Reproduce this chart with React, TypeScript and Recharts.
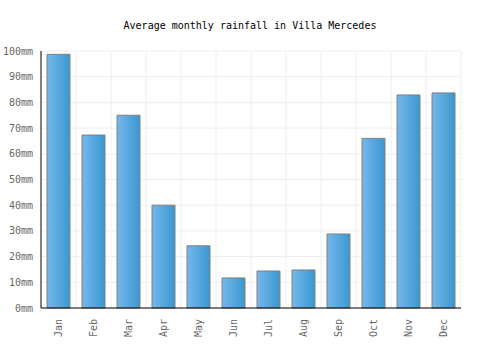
import React from 'react';
import { BarChart, Bar, XAxis, YAxis, CartesianGrid } from 'recharts';

const months = ['Jan', 'Feb', 'Mar', 'Apr', 'May', 'Jun', 'Jul', 'Aug', 'Sep', 'Oct', 'Nov', 'Dec'];
const rainfall = [98.7, 67.3, 75, 40, 24.2, 11.7, 14.4, 14.8, 28.8, 66, 82.9, 83.7];
const yTicks = [0, 10, 20, 30, 40, 50, 60, 70, 80, 90, 100];

const data = months.map((month, i) => ({ month, rainfall: rainfall[i] }));

const FONT = '"DejaVu Sans Mono", monospace';

const MonthTick = ({ x, y, payload }: { x?: number; y?: number; payload?: { value: string } }) => (
    <text
        transform={`translate(${x}, ${(y ?? 0) + 3}) rotate(-90)`}
        textAnchor="end"
        dominantBaseline="central"
        fontFamily={FONT}
        fontSize={10}
        fill="#666"
        stroke="none"
    >
        {payload?.value}
    </text>
);

export default function App() {
    return (
        <div style={{ position: 'absolute', left: 0, top: 0, width: 500, height: 350, background: '#fff' }}>
            <svg width={500} height={40} style={{ position: 'absolute', left: 0, top: 0 }}>
                <text x={250} y={29} textAnchor="middle" fontFamily={FONT} fontSize={10} fill="#000">
                    Average monthly rainfall in Villa Mercedes
                </text>
            </svg>
            <BarChart
                width={500}
                height={350}
                data={data}
                margin={{ top: 51, right: 39, left: 0, bottom: 0 }}
                barSize={23}
            >
                <defs>
                    <linearGradient id="barFill" x1="0" y1="0" x2="1" y2="0">
                        <stop offset="0%" stopColor="#76b7eb" />
                        <stop offset="100%" stopColor="#3998cf" />
                    </linearGradient>
                </defs>
                <CartesianGrid
                    stroke="#eeeeee"
                    verticalCoordinatesGenerator={({ offset }: any) =>
                        months.map((_, k) => offset.left + ((k + 1) * offset.width) / months.length)
                    }
                />
                <XAxis
                    dataKey="month"
                    height={42}
                    tickLine={false}
                    axisLine={{ stroke: '#000' }}
                    tick={<MonthTick />}
                    interval={0}
                />
                <YAxis
                    width={41}
                    domain={[0, 100]}
                    ticks={yTicks}
                    tickFormatter={(v) => `${v}mm`}
                    tickLine={false}
                    axisLine={{ stroke: '#000' }}
                    tick={{ fontFamily: FONT, fontSize: 10, fill: '#666', stroke: 'none' }}
                />
                <Bar dataKey="rainfall" fill="url(#barFill)" stroke="#808080" strokeWidth={1} isAnimationActive={false} />
            </BarChart>
        </div>
    );
}
